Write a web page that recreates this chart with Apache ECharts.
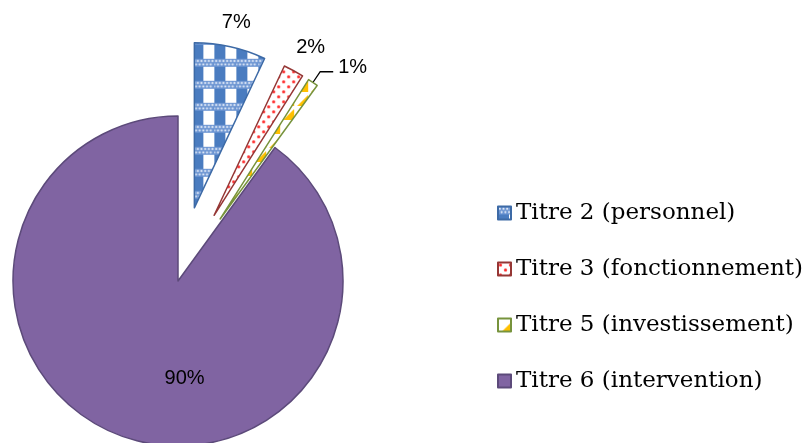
<!DOCTYPE html>
<html><head><meta charset="utf-8">
<script src="https://cdn.jsdelivr.net/npm/echarts@6/dist/echarts.min.js"></script>
<style>html,body{margin:0;padding:0;background:#fff}#c{width:808px;height:443px}</style>
</head><body><div id="c"></div>
<script>
const categories = ['Titre 2 (personnel)', 'Titre 3 (fonctionnement)', 'Titre 5 (investissement)', 'Titre 6 (intervention)'];
const values = [7, 2, 1, 90];
const exploded = [true, true, true, false];

function makeTile(w, h, draw) {
  const c = document.createElement('canvas');
  c.width = w; c.height = h;
  draw(c.getContext('2d'), w, h);
  return c;
}
const blueTile = makeTile(22, 22, (g, w, h) => {
  g.fillStyle = '#ffffff'; g.fillRect(0, 0, w, h);
  g.fillStyle = '#4a7cc0'; g.fillRect(0, 0, 11, h);
  g.fillStyle = '#6b94d2'; g.fillRect(0, 0, w, 8);
  g.fillStyle = '#e8effa';
  for (let i = 0; i < 6; i++) {
    g.beginPath(); g.arc(1.83 + i * 3.667, 2.2, 1.1, 0, Math.PI * 2); g.fill();
    g.beginPath(); g.arc(i * 3.667, 5.6, 1.1, 0, Math.PI * 2); g.fill();
  }
});
const redTile = makeTile(10, 10, (g, w, h) => {
  g.fillStyle = '#ffffff'; g.fillRect(0, 0, w, h);
  g.fillStyle = '#ff2a2a';
  [[2.5, 2.5], [7.5, 7.5]].forEach(p => { g.beginPath(); g.arc(p[0], p[1], 1.6, 0, Math.PI * 2); g.fill(); });
});
const yellowTile = makeTile(14, 14, (g, w, h) => {
  g.fillStyle = '#ffffff'; g.fillRect(0, 0, w, h);
  g.fillStyle = '#ffc000';
  g.beginPath(); g.moveTo(14, 3); g.lineTo(14, 14); g.lineTo(3, 14); g.closePath(); g.fill();
});

const fills = [
  { image: blueTile, repeat: 'repeat' },
  { image: redTile, repeat: 'repeat' },
  { image: yellowTile, repeat: 'repeat' },
  '#8064a2'
];
const borders = ['#3d6aa6', '#953735', '#77933c', '#5c4a7a'];
const labelLines = [
  { show: false, length: 25, length2: 0 },
  { show: false, length: 26, length2: 0 },
  { show: true, length: 13, length2: 13, lineStyle: { color: '#000', width: 1.3 } },
  { show: false }
];
const labelShift = [[-19, 0], [-15, 0], [0, -4], [33, 16]];

const chart = echarts.init(document.getElementById('c'), null, { renderer: 'canvas' });
chart.setOption({
  animation: false,
  backgroundColor: '#ffffff',
  legend: {
    orient: 'vertical', left: 492, top: 196, icon: 'rect',
    itemWidth: 13, itemHeight: 13, itemGap: 32, selectedMode: false,
    textStyle: { fontFamily: 'DejaVu Serif', fontSize: 23, color: '#000', lineHeight: 24 },
    data: categories
  },
  series: [{
    type: 'pie', center: [178, 281], radius: 165, startAngle: 90, clockwise: true,
    selectedMode: 'multiple', selectedOffset: 75, avoidLabelOverlap: false, percentPrecision: 0,
    emphasis: { disabled: true },
    label: { show: true, formatter: '{d}%', fontFamily: 'Liberation Sans', fontSize: 20, color: '#000', position: 'outside' },
    labelLine: { show: false },
    labelLayout: function (p) { const s = labelShift[p.dataIndex]; return { dx: s[0], dy: s[1] }; },
    data: categories.map((name, i) => ({
      name: name, value: values[i], selected: exploded[i],
      itemStyle: { color: fills[i], borderColor: borders[i], borderWidth: 1.5 },
      label: i === 3 ? { position: 'inside' } : {},
      labelLine: labelLines[i]
    }))
  }]
});
</script></body></html>
